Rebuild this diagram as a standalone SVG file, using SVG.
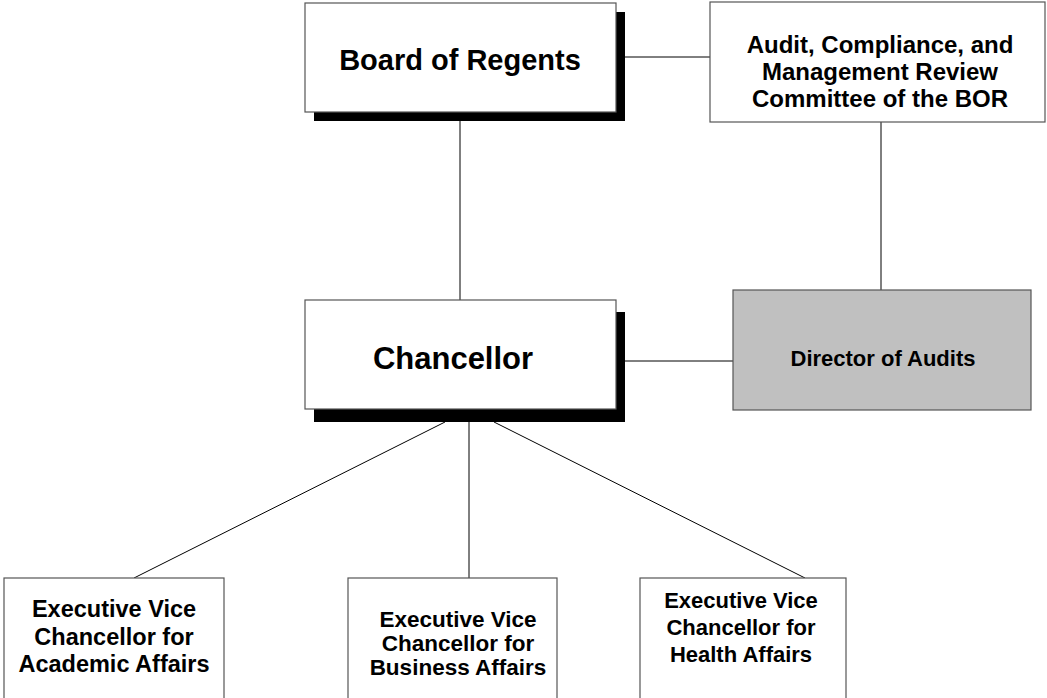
<svg xmlns="http://www.w3.org/2000/svg" width="1047" height="698" viewBox="0 0 1047 698">
<style>
.box{fill:#fff;stroke:#555;stroke-width:1.2}
.gray{fill:#c0c0c0;stroke:#555;stroke-width:1.2}
.shadow{fill:#000}
.conn line{stroke:#000;stroke-width:1}
text{font-family:"Liberation Sans",Arial,sans-serif;font-weight:bold;fill:#000;text-anchor:middle}
.big{font-size:29px}
.mid{font-size:22px}
.aud{font-size:24px}
.acad{font-size:23.5px}
.bus{font-size:22.5px}
</style>
<rect width="1047" height="698" fill="#fff"/>
<g class="conn" id="connectors">
<line x1="625" y1="57" x2="710" y2="57"/>
<line x1="460" y1="121" x2="460" y2="300"/>
<line x1="881" y1="122" x2="881" y2="290"/>
<line x1="625" y1="361" x2="733" y2="361"/>
<line x1="469" y1="409" x2="469" y2="578"/>
<line x1="445" y1="422" x2="134" y2="578"/>
<line x1="494" y1="422" x2="805" y2="578"/>
</g>
<g id="board">
<rect class="shadow" x="314" y="12" width="311" height="109"/>
<rect class="box" x="305" y="3" width="311" height="109"/>
<text class="big" x="460" y="70">Board of Regents</text>
</g>
<g id="audit-committee">
<rect class="box" x="710" y="2" width="335" height="120"/>
<text class="aud" x="880" y="53">Audit, Compliance, and</text>
<text class="aud" x="880" y="80">Management Review</text>
<text class="aud" x="880" y="107">Committee of the BOR</text>
</g>
<g id="chancellor">
<rect class="shadow" x="314" y="312" width="311" height="110"/>
<rect class="box" x="305" y="300" width="311" height="109"/>
<text class="big" x="453" y="369" style="font-size:31px">Chancellor</text>
</g>
<g id="director">
<rect class="gray" x="733" y="290" width="298" height="120"/>
<text class="mid" x="883" y="366">Director of Audits</text>
</g>
<g id="evc-academic">
<rect class="box" x="4" y="578" width="220" height="130"/>
<text class="acad" x="114" y="617">Executive Vice</text>
<text class="acad" x="114" y="645">Chancellor for</text>
<text class="acad" x="114" y="672">Academic Affairs</text>
</g>
<g id="evc-business">
<rect class="box" x="348" y="578" width="209" height="130"/>
<text class="bus" x="458" y="627">Executive Vice</text>
<text class="bus" x="458" y="651">Chancellor for</text>
<text class="bus" x="458" y="675">Business Affairs</text>
</g>
<g id="evc-health">
<rect class="box" x="640" y="578" width="206" height="130"/>
<text class="mid" x="741" y="608">Executive Vice</text>
<text class="mid" x="741" y="635">Chancellor for</text>
<text class="mid" x="741" y="662">Health Affairs</text>
</g>
</svg>
